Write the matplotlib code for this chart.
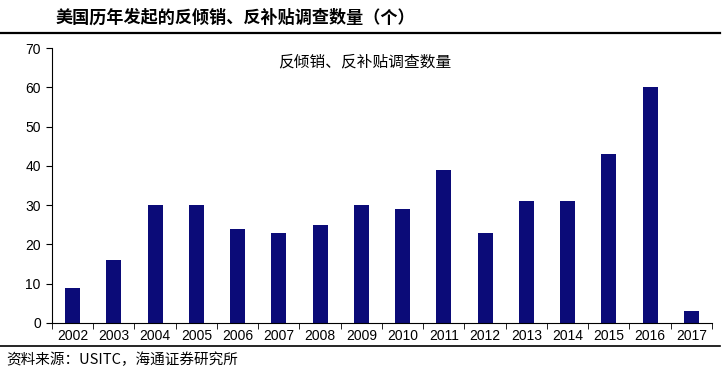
import matplotlib.pyplot as plt
from matplotlib.lines import Line2D
import numpy as np

plt.rcParams['font.family'] = ['Liberation Sans', 'Noto Sans CJK SC', 'DejaVu Sans']

years = ['2002', '2003', '2004', '2005', '2006', '2007', '2008', '2009',
         '2010', '2011', '2012', '2013', '2014', '2015', '2016', '2017']
counts = [9, 16, 30, 30, 24, 23, 25, 30, 29, 39, 23, 31, 31, 43, 60, 3]

title = '美国历年发起的反倾销、反补贴调查数量（个）'
series_name = '反倾销、反补贴调查数量'
source = '资料来源：USITC，海通证券研究所'

fig = plt.figure(figsize=(7.25, 3.76), dpi=100)
ax = fig.add_axes([0.0717, 0.141, 0.9103, 0.731])

x = np.arange(len(years))
ax.bar(x, counts, width=0.36, color='#0b0b78')

ax.set_xlim(-0.5, len(years) - 0.5)
ax.set_ylim(0, 70)
ax.set_yticks(range(0, 71, 10))
ax.tick_params(axis='y', labelsize=10, length=4, direction='out', pad=4)

ax.set_xticks(x)
ax.set_xticklabels(years, fontsize=10)
ax.tick_params(axis='x', which='major', length=0, pad=4)
ax.set_xticks(np.arange(-0.5, len(years)), minor=True)
ax.tick_params(axis='x', which='minor', length=4, direction='out')

for s in ['top', 'right']:
    ax.spines[s].set_visible(False)
ax.spines['left'].set_linewidth(0.8)
ax.spines['bottom'].set_linewidth(0.8)

ax.text(0.474, 0.95, series_name, transform=ax.transAxes, ha='center', va='center',
        fontsize=11.3, family=['Noto Sans CJK SC', 'DejaVu Sans'])

fig.text(0.076, 0.952, title, ha='left', va='center', fontsize=12.3,
         fontweight='bold', family=['Noto Sans CJK SC', 'DejaVu Sans'])
fig.text(0.008, 0.043, source, ha='left', va='center', fontsize=10.5,
         family=['Noto Sans CJK SC', 'DejaVu Sans'])

fig.add_artist(Line2D([0.0, 0.993], [0.912, 0.912], transform=fig.transFigure,
                      color='black', linewidth=1.6))
fig.add_artist(Line2D([0.0, 0.993], [0.08, 0.08], transform=fig.transFigure,
                      color='black', linewidth=1.2))

fig.savefig('out.png', dpi=100)
